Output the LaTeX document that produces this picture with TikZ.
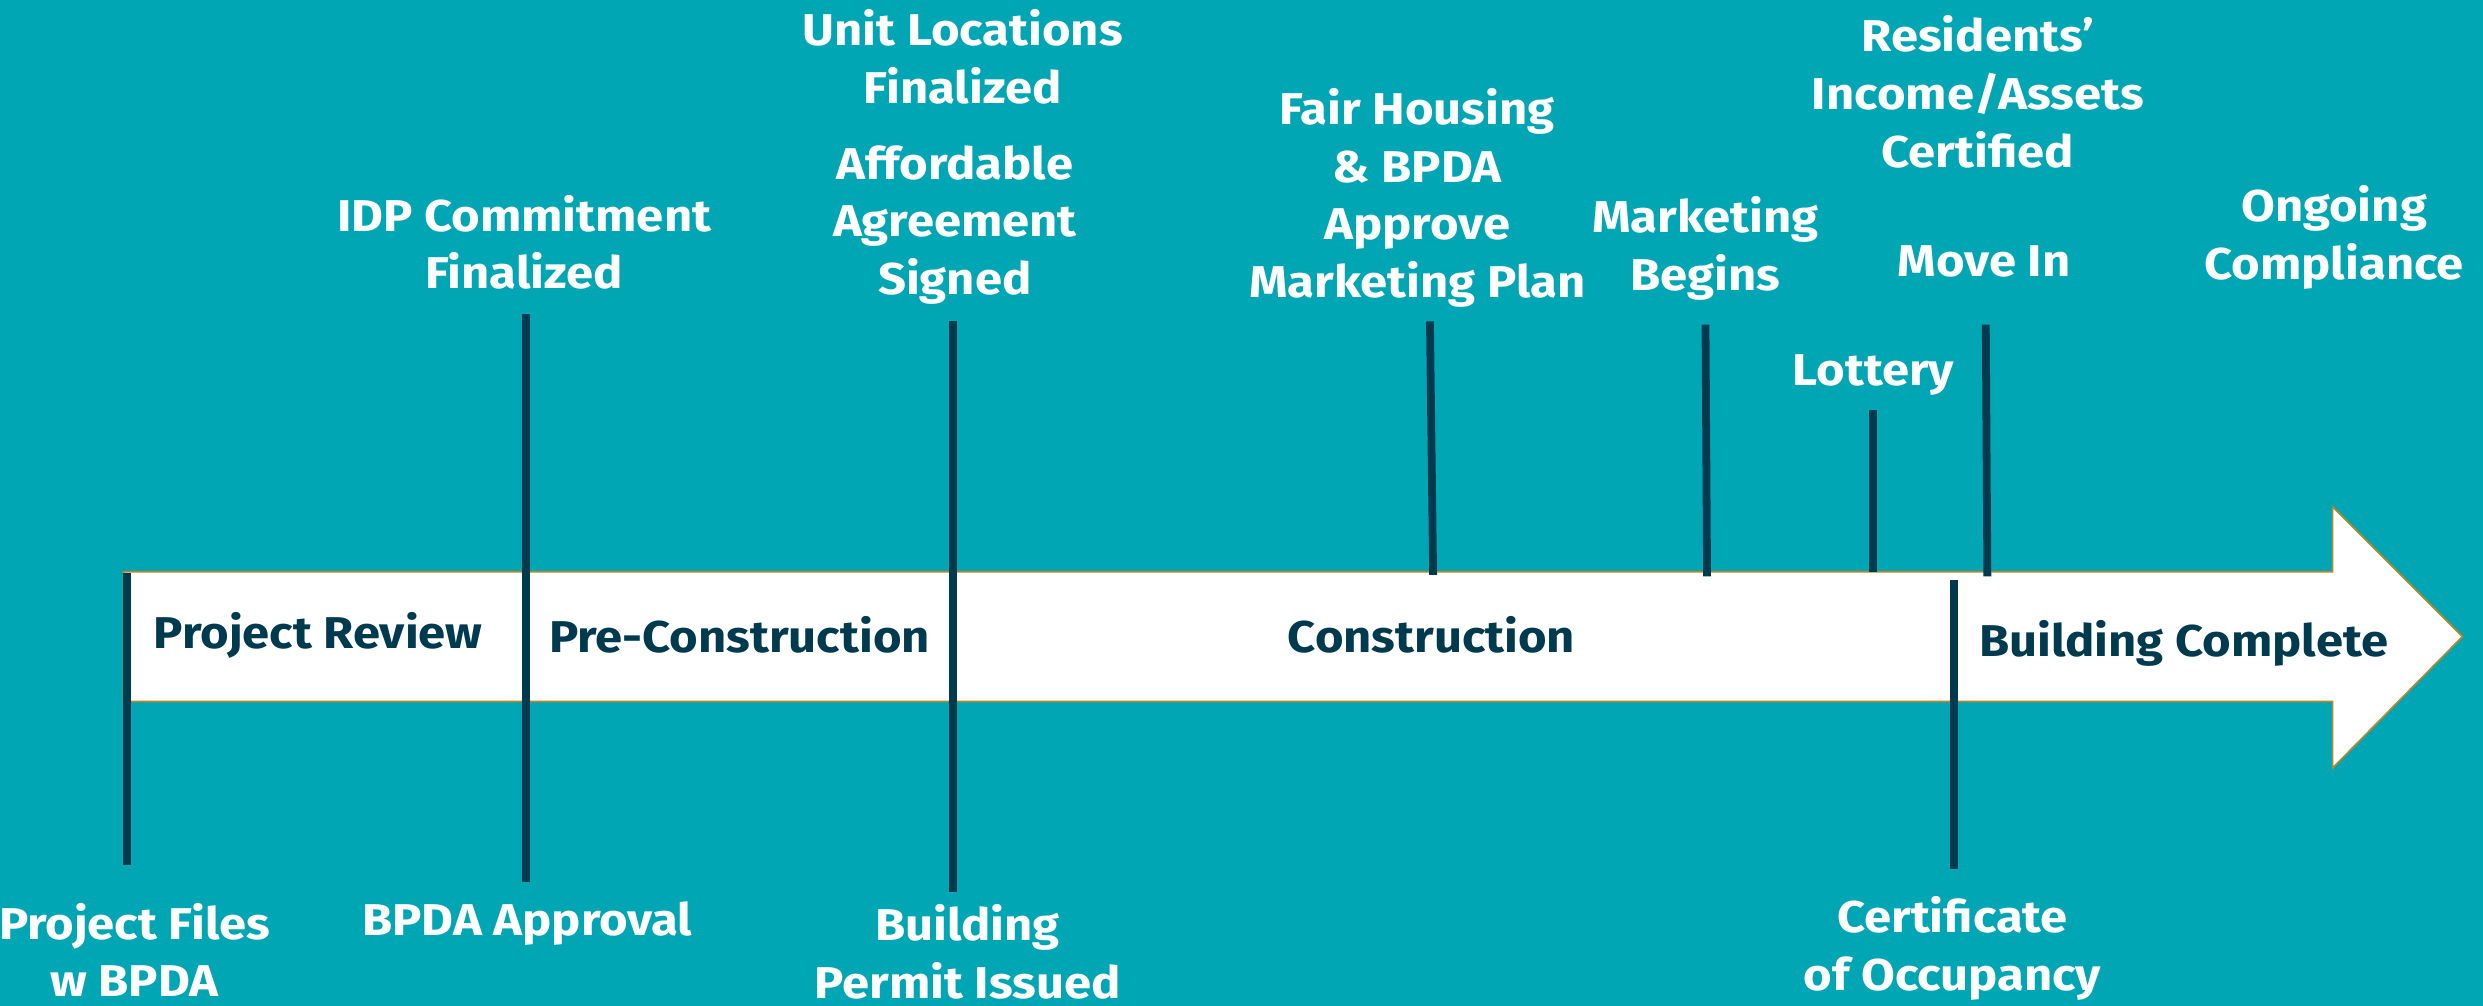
\documentclass[tikz,border=0pt]{standalone}
\usepackage{fontspec}
\setmainfont{Fira Sans}[FakeStretch=1.1]
\usepackage{tikz}
\usetikzlibrary{positioning}

\definecolor{teal}{HTML}{00A6B4}
\definecolor{navy}{HTML}{003A4E}
\definecolor{gold}{HTML}{B8862B}

\begin{document}
\begin{tikzpicture}[
    x=0.02cm, y=-0.02cm,
    event/.style={text=white, font=\fontsize{16}{20.7}\selectfont\bfseries, align=center, inner sep=0pt},
    phase/.style={text=navy, font=\fontsize{16}{20.7}\selectfont\bfseries, align=center, inner sep=0pt},
    tick/.style={draw=navy, line width=2.8pt},
  ]
    % Background
    \fill[teal] (0,0) rectangle (1568,635);
    \useasboundingbox (0,0) rectangle (1568,635);

    % Timeline arrow
    \draw[fill=white, draw=gold, line width=0.6pt]
      (78,361) -- (1473,361) -- (1473,320) -- (1555,402) -- (1473,485) -- (1473,443) -- (78,443) -- cycle;

    % Phases
    \node[phase] (review) at (201,401) {Project Review};
    \node[phase] (precon) at (467,401) {Pre-Construction};
    \node[phase] (constr) at (904,401) {Construction};
    \node[phase] (complete) at (1379,406) {Building Complete};

    % Ticks
    \draw[tick] (80,362) -- (80,546);
    \draw[tick] (332,198) -- (332,557);
    \draw[tick] (602,203) -- (602,563);
    \draw[tick] (903,203) -- (905,363);
    \draw[tick] (1077,205) -- (1078,364);
    \draw[tick] (1183,259) -- (1183,361);
    \draw[tick] (1254,205) -- (1255,364);
    \draw[tick] (1234,366) -- (1234,549);

    % Milestones above
    \node[event] (idp) at (331,153) {IDP Commitment\\Finalized};
    \node[event] (units) at (608,36) {Unit Locations\\Finalized};
    \node[event] (afford) at (603,142) {Affordable\\Agreement\\Signed};
    \node[event] (fair) at (895,125) {Fair Housing\\\& BPDA\\Approve\\Marketing Plan};
    \node[event] (mkt) at (1077,157) {Marketing\\Begins};
    \node[event] (lottery) at (1183,237) {Lottery};
    \node[event] (certify) at (1249,58) {Residents’\\Income/Assets\\Certified};
    \node[event] (movein) at (1253,165) {Move In};
    \node[event] (ongoing) at (1474,150) {Ongoing\\Compliance};

    % Milestones below
    \node[event] (files) at (85,600) {Project Files\\w BPDA};
    \node[event] (bpda) at (333,583) {BPDA Approval};
    \node[event] (permit) at (611,601) {Building\\Permit Issued};
    \node[event] (cert) at (1233,599) {Certificate\\of Occupancy};
  \end{tikzpicture}
\end{document}
